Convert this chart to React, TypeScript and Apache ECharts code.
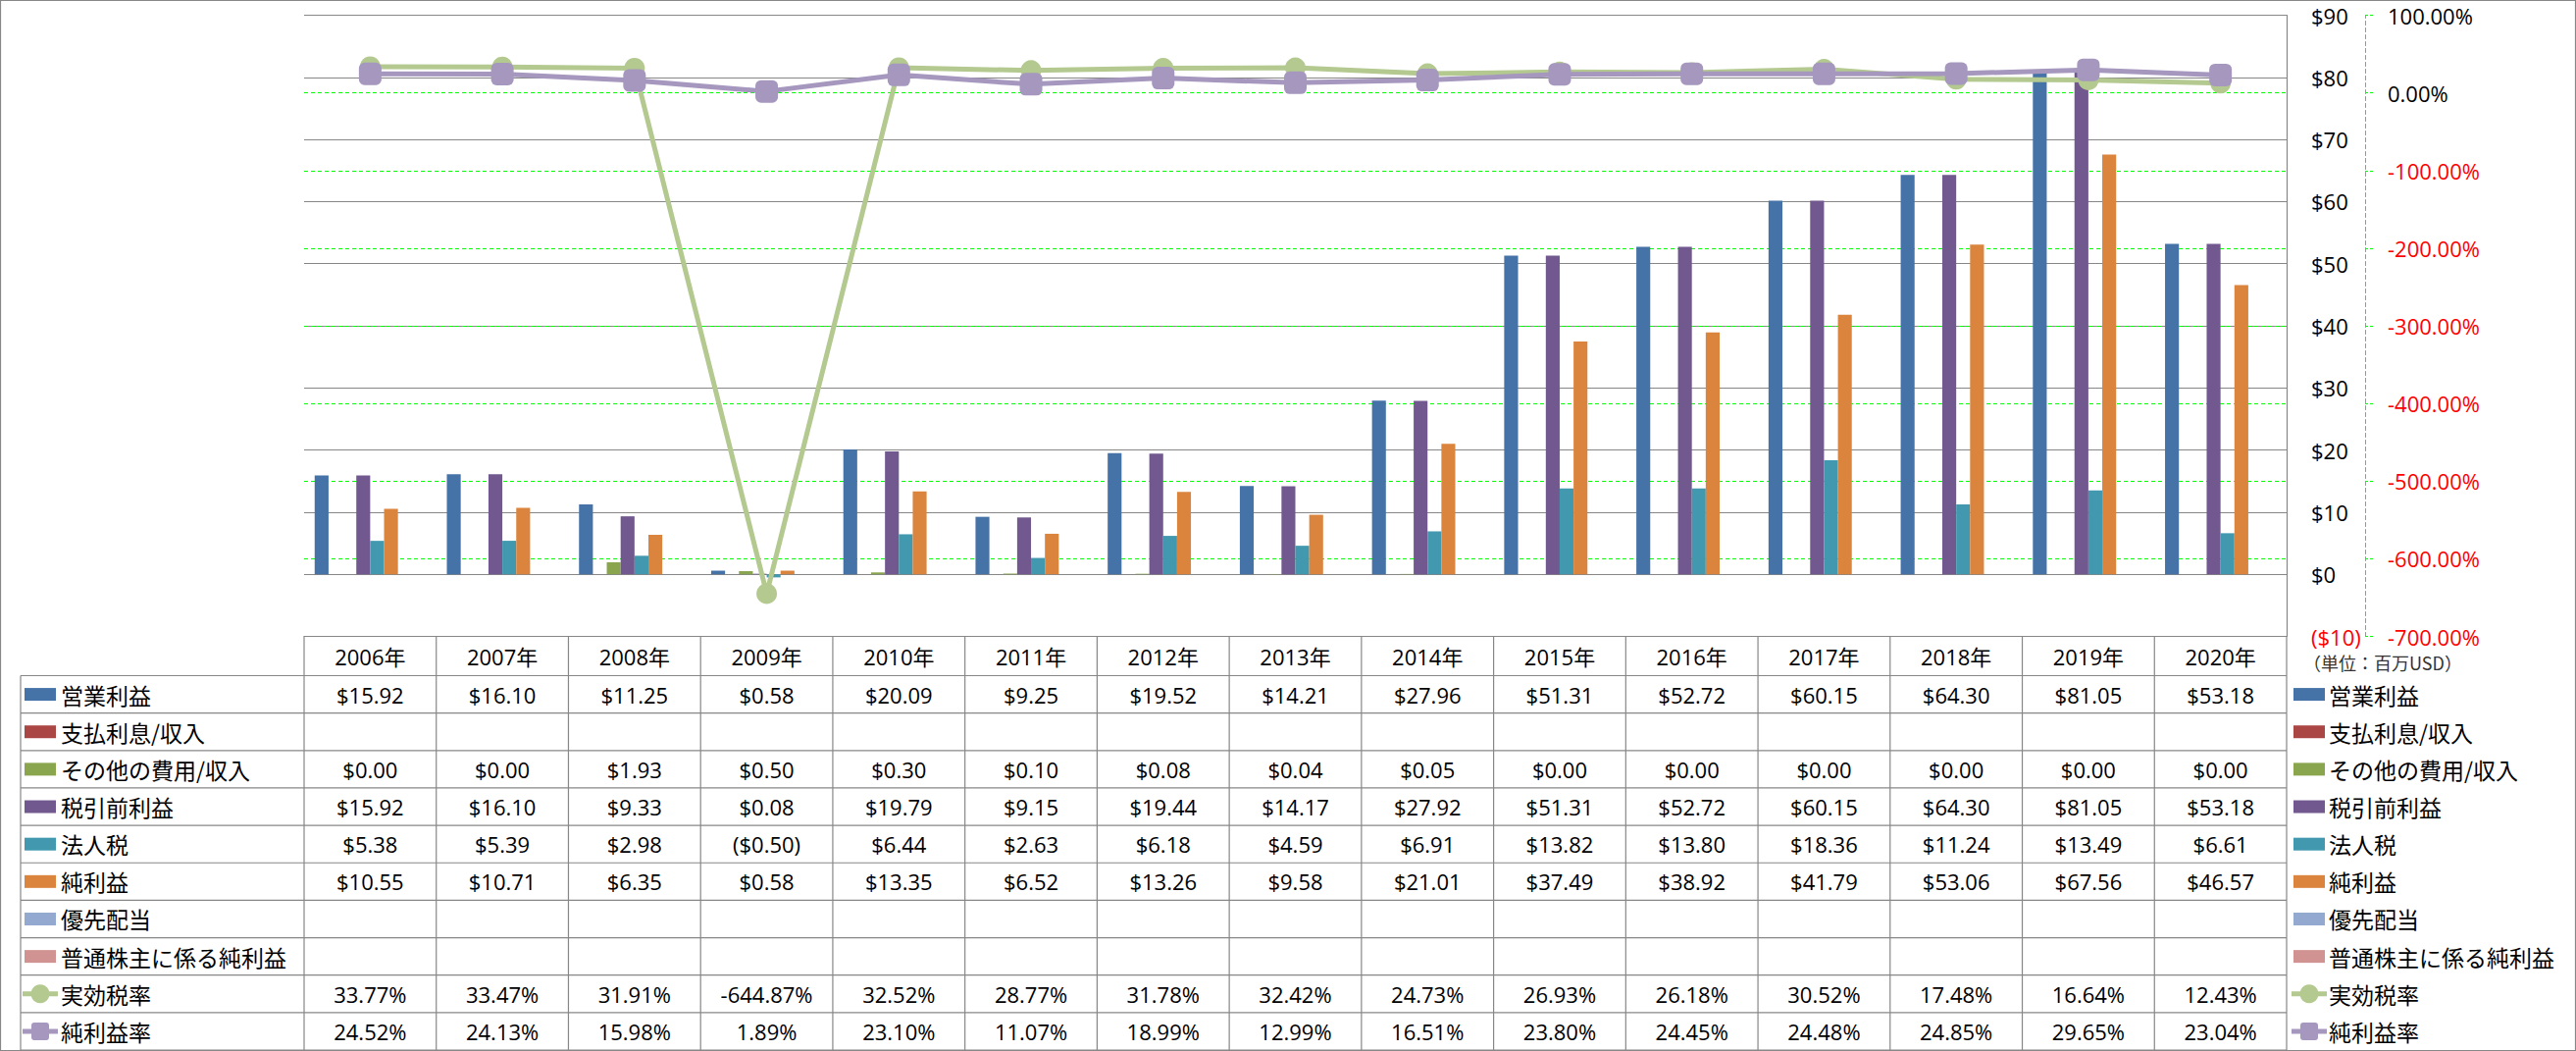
import React, { useEffect, useRef } from "react";
import * as echarts from "echarts";

// ---------------- data ----------------
const categories = [
  "2006年", "2007年", "2008年", "2009年", "2010年", "2011年", "2012年", "2013年",
  "2014年", "2015年", "2016年", "2017年", "2018年", "2019年", "2020年",
];
const operatingIncome = [15.92, 16.10, 11.25, 0.58, 20.09, 9.25, 19.52, 14.21, 27.96, 51.31, 52.72, 60.15, 64.30, 81.05, 53.18];
const interestIncome = [null, null, null, null, null, null, null, null, null, null, null, null, null, null, null];
const otherExpense = [0.00, 0.00, 1.93, 0.50, 0.30, 0.10, 0.08, 0.04, 0.05, 0.00, 0.00, 0.00, 0.00, 0.00, 0.00];
const pretaxIncome = [15.92, 16.10, 9.33, 0.08, 19.79, 9.15, 19.44, 14.17, 27.92, 51.31, 52.72, 60.15, 64.30, 81.05, 53.18];
const incomeTax = [5.38, 5.39, 2.98, -0.50, 6.44, 2.63, 6.18, 4.59, 6.91, 13.82, 13.80, 18.36, 11.24, 13.49, 6.61];
const netIncome = [10.55, 10.71, 6.35, 0.58, 13.35, 6.52, 13.26, 9.58, 21.01, 37.49, 38.92, 41.79, 53.06, 67.56, 46.57];
const preferredDividends = [null, null, null, null, null, null, null, null, null, null, null, null, null, null, null];
const netIncomeCommon = [null, null, null, null, null, null, null, null, null, null, null, null, null, null, null];
const effectiveTaxRate = [33.77, 33.47, 31.91, -644.87, 32.52, 28.77, 31.78, 32.42, 24.73, 26.93, 26.18, 30.52, 17.48, 16.64, 12.43];
const netMargin = [24.52, 24.13, 15.98, 1.89, 23.10, 11.07, 18.99, 12.99, 16.51, 23.80, 24.45, 24.48, 24.85, 29.65, 23.04];

const usdAxis = { min: -10, max: 90, interval: 10 };
const pctAxis = { min: -700, max: 100, interval: 100 };
const unitLabel = "（単位：百万USD）";

type Row = {
  name: string;
  color: string;
  kind: "bar" | "line";
  symbol?: string;
  values: (number | null)[];
  fmt: "usd" | "pct";
};

const rows: Row[] = [
  { name: "営業利益", color: "#4572A7", kind: "bar", values: operatingIncome, fmt: "usd" },
  { name: "支払利息/収入", color: "#AA4643", kind: "bar", values: interestIncome, fmt: "usd" },
  { name: "その他の費用/収入", color: "#89A54E", kind: "bar", values: otherExpense, fmt: "usd" },
  { name: "税引前利益", color: "#71588F", kind: "bar", values: pretaxIncome, fmt: "usd" },
  { name: "法人税", color: "#4198AF", kind: "bar", values: incomeTax, fmt: "usd" },
  { name: "純利益", color: "#DB843D", kind: "bar", values: netIncome, fmt: "usd" },
  { name: "優先配当", color: "#93A9CF", kind: "bar", values: preferredDividends, fmt: "usd" },
  { name: "普通株主に係る純利益", color: "#D19392", kind: "bar", values: netIncomeCommon, fmt: "usd" },
  { name: "実効税率", color: "#B3C98F", kind: "line", symbol: "circle", values: effectiveTaxRate, fmt: "pct" },
  { name: "純利益率", color: "#A597BE", kind: "line", symbol: "roundRect", values: netMargin, fmt: "pct" },
];

// ---------------- layout ----------------
const W = 2626;
const H = 1071;
const GRID_LEFT = 310;
const GRID_RIGHT_X = 2331;
const GRID_TOP = 15.5;
const GRID_BOTTOM_Y = 648.5;
const TABLE_LEFT = 21;
const HEADER_BOTTOM = 688.5;
const TABLE_BOTTOM = 1070;
const LINE_COLOR = "#878787";
const NUM_FONT = "22px 'Open Sans', 'Noto Sans CJK JP', sans-serif";
const JP_FONT = "23px 'Noto Sans CJK JP', sans-serif";

function fmtValue(v: number | null, fmt: "usd" | "pct"): string {
  if (v === null || v === undefined) return "";
  if (fmt === "pct") return v.toFixed(2) + "%";
  if (v < 0) return "($" + Math.abs(v).toFixed(2) + ")";
  return "$" + v.toFixed(2);
}

function legendSymbol(row: Row, x0: number, cy: number): any[] {
  if (row.kind === "bar") {
    return [{ type: "rect", shape: { x: x0, y: cy - 6.5, width: 32, height: 13 }, style: { fill: row.color }, silent: true }];
  }
  const items: any[] = [
    { type: "line", shape: { x1: x0 - 2, y1: cy, x2: x0 + 34, y2: cy }, style: { stroke: row.color, lineWidth: 5 }, silent: true },
  ];
  if (row.symbol === "circle") {
    items.push({ type: "circle", shape: { cx: x0 + 16, cy, r: 9.5 }, style: { fill: row.color }, silent: true });
  } else {
    items.push({ type: "rect", shape: { x: x0 + 7, y: cy - 9, width: 18, height: 18, r: 3 }, style: { fill: row.color }, silent: true });
  }
  return items;
}

function buildGraphic(): any[] {
  const g: any[] = [];
  const n = categories.length;
  const colW = (GRID_RIGHT_X - GRID_LEFT) / n;
  const rowH = (TABLE_BOTTOM - HEADER_BOTTOM) / rows.length;
  const line = (x1: number, y1: number, x2: number, y2: number) => ({
    type: "line",
    shape: { x1, y1, x2, y2 },
    style: { stroke: LINE_COLOR, lineWidth: 1.2 },
    silent: true,
  });
  g.push({ type: "rect", shape: { x: 0.5, y: 0.5, width: W - 1, height: H - 1 }, style: { fill: "none", stroke: LINE_COLOR, lineWidth: 1.2 }, silent: true });
  for (let r = 0; r <= rows.length; r++) {
    const y = HEADER_BOTTOM + r * rowH;
    g.push(line(TABLE_LEFT, y, GRID_RIGHT_X, y));
  }
  g.push(line(TABLE_LEFT, HEADER_BOTTOM, TABLE_LEFT, TABLE_BOTTOM));
  for (let c = 0; c <= n; c++) {
    const x = GRID_LEFT + c * colW;
    g.push(line(x, GRID_BOTTOM_Y, x, TABLE_BOTTOM));
  }
  rows.forEach((row, r) => {
    const cy = HEADER_BOTTOM + (r + 0.5) * rowH;
    g.push(...legendSymbol(row, 25, cy));
    g.push({ type: "text", silent: true, style: { text: row.name, x: 62, y: cy, font: JP_FONT, fill: "#000", align: "left", verticalAlign: "middle" } });
    row.values.forEach((v, i) => {
      const t = fmtValue(v, row.fmt);
      if (!t) return;
      g.push({ type: "text", silent: true, style: { text: t, x: GRID_LEFT + (i + 0.5) * colW, y: cy, font: NUM_FONT, fill: "#000", align: "center", verticalAlign: "middle" } });
    });
    g.push(...legendSymbol(row, 2338, cy));
    g.push({ type: "text", silent: true, style: { text: row.name, x: 2374, y: cy, font: JP_FONT, fill: "#000", align: "left", verticalAlign: "middle" } });
  });
  g.push({ type: "text", silent: true, style: { text: unitLabel, x: 2348, y: 675, font: "18px 'Noto Sans CJK JP', sans-serif", fill: "#333", align: "left", verticalAlign: "middle" } });
  return g;
}

export default function App() {
  const ref = useRef<HTMLDivElement>(null);
  useEffect(() => {
    document.body.style.margin = "0";
    if (!ref.current) return;
    const chart = echarts.init(ref.current, null, { renderer: "svg" });
    const barSeries = rows
      .filter((r) => r.kind === "bar")
      .map((r) => ({
        name: r.name,
        type: "bar",
        xAxisIndex: 0,
        yAxisIndex: 0,
        data: r.values,
        barGap: "0%",
        barCategoryGap: "16%",
        itemStyle: { color: r.color },
        z: 2,
      }));
    const lineSeries = rows
      .filter((r) => r.kind === "line")
      .map((r, k) => ({
        name: r.name,
        type: "line",
        xAxisIndex: 0,
        yAxisIndex: 1,
        data: r.values,
        symbol: r.symbol,
        symbolSize: r.symbol === "circle" ? 21 : 23,
        showAllSymbol: true,
        lineStyle: { color: r.color, width: 5 },
        itemStyle: { color: r.color, opacity: 1 },
        z: 3 + k,
      }));
    const option: any = {
      animation: false,
      backgroundColor: "#fff",
      grid: {
        left: GRID_LEFT,
        right: W - GRID_RIGHT_X,
        top: GRID_TOP,
        bottom: H - GRID_BOTTOM_Y,
        containLabel: false,
      },
      xAxis: [
        {
          type: "category",
          data: categories,
          boundaryGap: true,
          axisLine: { show: true, onZero: false, lineStyle: { color: LINE_COLOR, width: 1.2 } },
          axisTick: { show: false },
          axisLabel: {
            show: true,
            interval: 0,
            margin: 20,
            verticalAlign: "middle",
            color: "#000",
            fontSize: 22,
            fontFamily: "'Open Sans', 'Noto Sans CJK JP', sans-serif",
          },
          splitLine: { show: false },
        },
      ],
      yAxis: [
        {
          type: "value",
          position: "right",
          min: usdAxis.min,
          max: usdAxis.max,
          interval: usdAxis.interval,
          axisLine: { show: true, lineStyle: { color: LINE_COLOR, width: 1.2 } },
          axisTick: { show: false },
          axisLabel: {
            margin: 25,
            fontSize: 22,
            fontFamily: "'Open Sans', sans-serif",
            color: (v: any) => (Number(v) < 0 ? "#FF0000" : "#000"),
            formatter: (v: number) => (v < 0 ? `($${Math.abs(v)})` : `$${v}`),
          },
          splitLine: { show: true, lineStyle: { color: LINE_COLOR, width: 1.2 } },
        },
        {
          type: "value",
          position: "right",
          offset: 80,
          min: pctAxis.min,
          max: pctAxis.max,
          interval: pctAxis.interval,
          axisLine: { show: true, lineStyle: { color: "#00FF00", width: 1, type: [4, 3] } },
          axisTick: { show: true, inside: false, length: 8, lineStyle: { color: "#00FF00", width: 1, type: [3, 2] } },
          axisLabel: {
            margin: 23,
            fontSize: 22,
            fontFamily: "'Open Sans', sans-serif",
            color: (v: any) => (Number(v) < 0 ? "#FF0000" : "#000"),
            formatter: (v: number) => `${v.toFixed(2)}%`,
          },
          splitLine: {
            show: true,
            showMinLine: false,
            showMaxLine: false,
            lineStyle: { color: "#00FF00", width: 1, type: [4, 3] },
          },
        },
      ],
      series: [...barSeries, ...lineSeries],
      graphic: buildGraphic(),
    };
    chart.setOption(option);
    return () => chart.dispose();
  }, []);
  return <div ref={ref} style={{ width: W, height: H }} />;
}
